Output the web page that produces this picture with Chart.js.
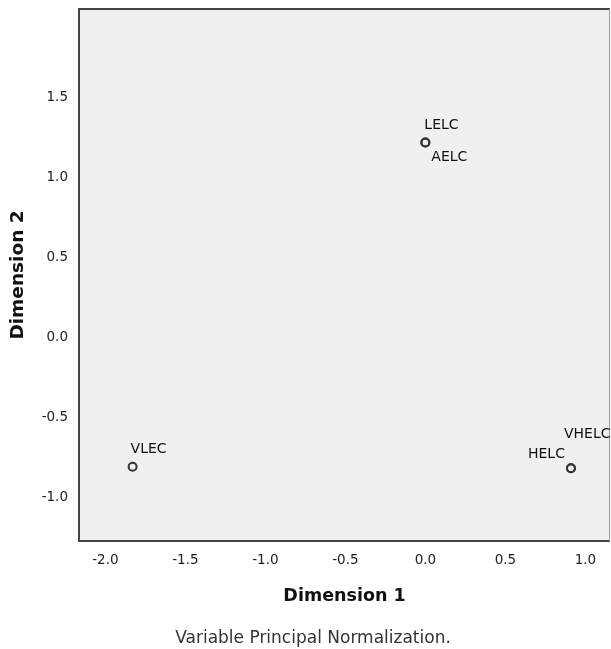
<!DOCTYPE html>
<html>
<head>
<meta charset="utf-8">
<script src="https://cdn.jsdelivr.net/npm/chart.js@4.4.1/dist/chart.umd.min.js"></script>
<style>
html,body{margin:0;padding:0;background:#fff;}
#wrap{width:611px;height:649px;position:relative;}
</style>
</head>
<body>
<div id="wrap"><canvas id="c" width="611" height="649"></canvas></div>
<script>
// Data
const pointLabels = ["LELC", "AELC", "VLEC", "HELC", "VHELC"];
const dim1Values = [0.0, 0.0, -1.83, 0.91, 0.91];
const dim2Values = [1.22, 1.22, -0.81, -0.82, -0.82];
const xTicks = [-2.0, -1.5, -1.0, -0.5, 0.0, 0.5, 1.0];
const yTicks = [-1.0, -0.5, 0.0, 0.5, 1.0, 1.5];
const xTitle = "Dimension 1";
const yTitle = "Dimension 2";
const caption = "Variable Principal Normalization.";

const FONT = "'DejaVu Sans', 'Liberation Sans', Arial, sans-serif";
// label placement relative to marker (style only)
const labelOffsets = {
  "LELC": [-1, -17],
  "AELC": [6, 15],
  "VLEC": [-2, -17],
  "HELC": [-43, -14],
  "VHELC": [-7, -34]
};

const bgPlugin = {
  id: 'bg',
  beforeDraw(chart) {
    const {ctx, chartArea: a} = chart;
    ctx.save();
    ctx.fillStyle = '#f0f0f0';
    ctx.fillRect(a.left, a.top, a.right - a.left, a.bottom - a.top);
    ctx.restore();
  },
  afterDatasetsDraw(chart) {
    const {ctx, chartArea: a} = chart;
    ctx.save();
    // frame: dark left/top/bottom, light right edge
    ctx.strokeStyle = '#444';
    ctx.lineWidth = 2;
    ctx.beginPath();
    ctx.moveTo(a.right, a.top);
    ctx.lineTo(a.left, a.top);
    ctx.lineTo(a.left, a.bottom);
    ctx.lineTo(a.right, a.bottom);
    ctx.stroke();
    ctx.strokeStyle = '#999';
    ctx.lineWidth = 1;
    ctx.beginPath();
    ctx.moveTo(a.right - 0.5, a.top);
    ctx.lineTo(a.right - 0.5, a.bottom);
    ctx.stroke();
    // point labels
    ctx.fillStyle = '#111';
    ctx.font = "14px " + FONT;
    ctx.textAlign = 'left';
    ctx.textBaseline = 'middle';
    const meta = chart.getDatasetMeta(0);
    meta.data.forEach((pt, i) => {
      const lab = pointLabels[i];
      const off = labelOffsets[lab] || [0, -15];
      ctx.fillText(lab, pt.x + off[0], pt.y + off[1]);
    });
    // caption
    ctx.fillStyle = '#333';
    ctx.font = "17px " + FONT;
    ctx.textAlign = 'center';
    ctx.textBaseline = 'alphabetic';
    ctx.fillText(caption, 313, 643);
    ctx.restore();
  }
};

new Chart(document.getElementById('c'), {
  type: 'scatter',
  data: {
    datasets: [{
      data: dim1Values.map((x, i) => ({x: x, y: dim2Values[i]})),
      pointRadius: 4,
      pointHoverRadius: 4,
      pointBorderWidth: 2,
      pointBorderColor: '#333',
      pointBackgroundColor: 'rgba(0,0,0,0)'
    }]
  },
  options: {
    responsive: false,
    animation: false,
    layout: {autoPadding: false, padding: {left: 0, top: 9, right: 1, bottom: 38}},
    plugins: {legend: {display: false}, tooltip: {enabled: false}},
    scales: {
      x: {
        type: 'linear',
        min: -2.165, max: 1.154,
        afterBuildTicks(s) { s.ticks = xTicks.map(v => ({value: v})); },
        afterFit(s) { s.height = 70; s.paddingLeft = 0; s.paddingRight = 0; },
        grid: {display: false, drawOnChartArea: false, drawTicks: true, tickLength: 8, tickWidth: 2, tickColor: '#444'},
        border: {display: false},
        ticks: {
          color: '#222', font: {family: FONT, size: 13.5},
          padding: 3, autoSkip: false, maxRotation: 0,
          callback: v => v.toFixed(1)
        },
        title: {display: true, text: xTitle, color: '#111', font: {family: FONT, size: 17.5, weight: 'bold'}, padding: {top: 12}}
      },
      y: {
        type: 'linear',
        min: -1.275, max: 2.056,
        afterBuildTicks(s) { s.ticks = yTicks.map(v => ({value: v})); },
        afterFit(s) { s.width = 79; s.paddingTop = 0; s.paddingBottom = 0; },
        grid: {display: false, drawOnChartArea: false, drawTicks: true, tickLength: 9, tickWidth: 2, tickColor: '#444'},
        border: {display: false},
        ticks: {
          color: '#222', font: {family: FONT, size: 13.5},
          padding: 2,
          callback: v => v.toFixed(1)
        },
        title: {display: true, text: yTitle, color: '#111', font: {family: FONT, size: 18.5, weight: 'bold'}, padding: {top: 7, bottom: 0}}
      }
    }
  },
  plugins: [bgPlugin]
});
</script>
</body>
</html>
